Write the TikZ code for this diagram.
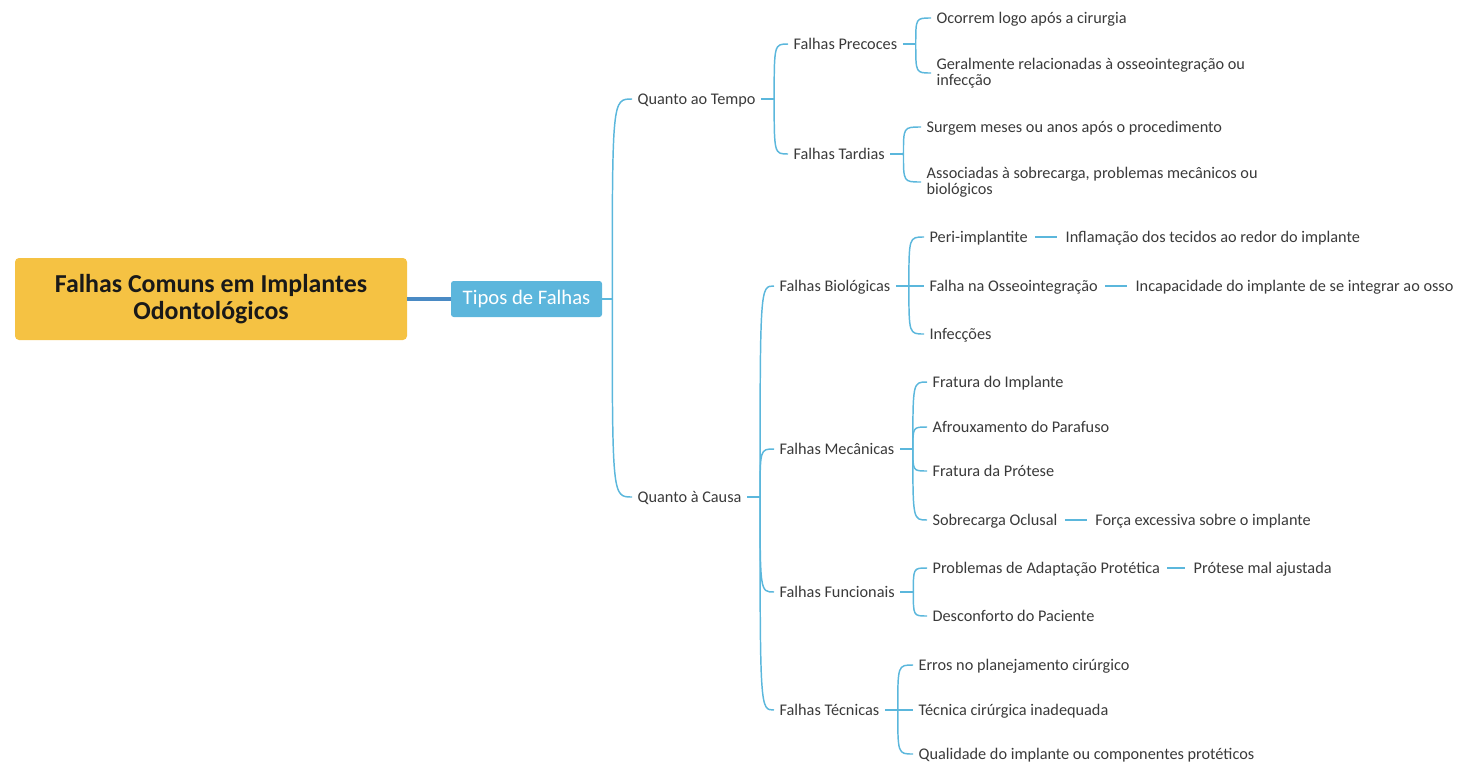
\documentclass[tikz,border=0pt]{standalone}
\usepackage{fontspec}
\setmainfont{Carlito}
\usetikzlibrary{positioning}
\definecolor{rootfill}{HTML}{F5C243}
\definecolor{tipofill}{HTML}{5CB6DC}
\definecolor{trunkblue}{HTML}{4A8AC4}
\definecolor{linkblue}{HTML}{5BB7DC}
\definecolor{txtgray}{HTML}{3A3A3A}

\begin{document}
\begin{tikzpicture}[x=0.75pt, y=-0.75pt,
  topic/.style={anchor=west, inner sep=4pt, text=txtgray, font=\fontsize{12.2}{12.2}\selectfont},
  onel/.style={topic, text height=9.5pt, text depth=1.5pt},
  twol/.style={topic, align=left},
  tie/.style={draw=linkblue, line width=1.1pt},
  dashl/.style={tie, shorten <=1.5pt, shorten >=2pt}]
  \useasboundingbox (0,0) rectangle (1463,765);

  \node[fill=rootfill, rounded corners=3pt, minimum width=294pt, minimum height=61.5pt, align=center,
    text=black!90, font=\bfseries\fontsize{19.4}{20.3}\selectfont] (root) at (211,299) {Falhas Comuns em Implantes\\Odontológicos};
  \node[fill=tipofill, rounded corners=2pt, minimum width=113.25pt, minimum height=27pt,
    text=white, font=\fontsize{15.5}{18}\selectfont] (tipos) at (526.5,299) {Tipos de Falhas};
  \draw[trunkblue, line width=2.4pt] (root.east) -- (tipos.west);

  \node[onel] (tempo) at (632,99) {Quanto ao Tempo};
  \node[onel] (causa) at (632,497) {Quanto à Causa};

  \node[onel] (precoces) at (788,44) {Falhas Precoces};
  \node[onel] (tardias) at (788,154) {Falhas Tardias};
  \node[onel] (ocorrem) at (931,18) {Ocorrem logo após a cirurgia};
  \node[twol] (geral) at (931,73) {Geralmente relacionadas à osseointegração ou\\infecção};
  \node[onel] (surgem) at (921,127) {Surgem meses ou anos após o procedimento};
  \node[twol] (assoc) at (921,182) {Associadas à sobrecarga, problemas mecânicos ou\\biológicos};

  \node[onel] (bio) at (774,286) {Falhas Biológicas};
  \node[onel] (mec) at (774,449) {Falhas Mecânicas};
  \node[onel] (func) at (774,592) {Falhas Funcionais};
  \node[onel] (tec) at (774,710) {Falhas Técnicas};

  \node[onel] (peri) at (924,237) {Peri-implantite};
  \node[onel, right=20pt of peri] (inflam) {Inflamação dos tecidos ao redor do implante};
  \node[onel] (osseo) at (924,286) {Falha na Osseointegração};
  \node[onel, right=20pt of osseo] (incap) {Incapacidade do implante de se integrar ao osso};
  \node[onel] (infec) at (924,334) {Infecções};

  \node[onel] (fratimp) at (927,382) {Fratura do Implante};
  \node[onel] (afroux) at (927,427) {Afrouxamento do Parafuso};
  \node[onel] (fratprot) at (927,471) {Fratura da Prótese};
  \node[onel] (sobre) at (927,520) {Sobrecarga Oclusal};
  \node[onel, right=20pt of sobre] (forca) {Força excessiva sobre o implante};

  \node[onel] (adapt) at (927,568) {Problemas de Adaptação Protética};
  \node[onel, right=17pt of adapt] (mal) {Prótese mal ajustada};
  \node[onel] (descon) at (927,616) {Desconforto do Paciente};

  \node[onel] (erros) at (913,665) {Erros no planejamento cirúrgico};
  \node[onel] (tecnica) at (913,710) {Técnica cirúrgica inadequada};
  \node[onel] (qualid) at (913,754) {Qualidade do implante ou componentes protéticos};

  \path (tipos.east) ++(10,0) coordinate (tipos-s);
  \draw[tie] (tipos.east) -- (tipos-s);
  \foreach \k in {tempo,causa}
    \draw[tie] (tipos-s) .. controls (tipos-s |- \k.west) .. (\k.west);
  \foreach \p/\kids in {tempo/{precoces,tardias}, precoces/{ocorrem,geral}, tardias/{surgem,assoc},
      causa/{bio,mec,func,tec}, bio/{peri,osseo,infec}, mec/{fratimp,afroux,fratprot,sobre},
      func/{adapt,descon}, tec/{erros,tecnica,qualid}} {
    \path (\p.east) ++(13,0) coordinate (\p-s);
    \draw[tie] (\p.east) -- (\p-s);
    \foreach \k in \kids
      \draw[tie] (\p-s) .. controls (\p-s |- \k.west) .. (\k.west);
  }

  \draw[dashl] (peri) -- (inflam);
  \draw[dashl] (osseo) -- (incap);
  \draw[dashl] (sobre) -- (forca);
  \draw[dashl] (adapt) -- (mal);
\end{tikzpicture}
\end{document}
